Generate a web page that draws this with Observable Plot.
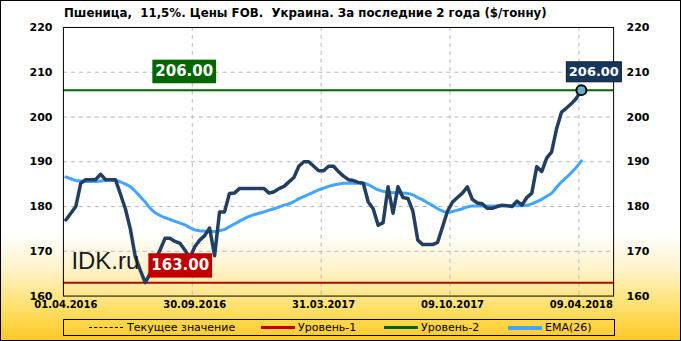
<!DOCTYPE html>
<html>
<head>
<meta charset="utf-8">
<script src="https://cdn.jsdelivr.net/npm/d3@7"></script>
<script src="https://cdn.jsdelivr.net/npm/@observablehq/plot@0.6"></script>
<style>
  body { margin: 0; }
  #wrap {
    position: relative; width: 681px; height: 341px; box-sizing: border-box;
    border: 1px solid #000; overflow: hidden;
    background: linear-gradient(to bottom, #ffffff 0%, #ffffff 68%, #fff3cc 79%, #ffdf66 91%, #ffc926 100%);
    font-family: "DejaVu Sans", sans-serif;
  }
  #title { position: absolute; left: 63px; top: 5px; font-weight: bold; font-size: 11.8px; white-space: pre; color: #000; }
  #chart { position: absolute; left: -1px; top: -1px; }
  #legend {
    position: absolute; left: 62px; top: 318px; width: 552px; height: 17px; box-sizing: border-box;
    border: 1px solid #000; font-size: 11px; color: #000;
  }
  #legend .sw { position: absolute; top: 6px; height: 3px; width: 34px; }
  #legend .lb { position: absolute; top: 0px; line-height: 15px; white-space: pre; }
</style>
</head>
<body>
<div id="wrap">
  <div id="title"></div>
  <div id="chart"></div>
  <div id="legend"></div>
</div>
<script>
const titleText = "Пшеница,  11,5%. Цены FOB.  Украина. За последние 2 года ($/тонну)";

const price = [177,178.5,180,185.2,186,186,186,187.2,186,186,
  186,182.8,179.5,175,168.8,165.8,163,165,168,170.3,
  172.9,172.9,172.2,171.8,170.3,168.5,171,172.5,173.5,175.2,
  169,178.8,178.8,182.9,183,184,184,184,184,184,
  184,183,183.3,184,184.5,185.5,186.5,189,190,190,
  189,188,188,189,189,187.8,186.8,186,185.8,185.4,
  185.2,181,179.5,175.8,176.4,184.4,178.5,184.4,182,181.8,
  179,172.5,171.5,171.5,171.5,172,175.5,179,181,182,
  183,184.4,181.6,180.8,180.6,179.6,179.6,180,180.3,180.2,
  180,181.2,180.3,182,183,188.9,187.8,190.8,192.2,197.4,
  201.1,202,203,204.2,206];

const ema = [186.6,186.2,185.8,185.7,185.6,185.6,185.6,185.7,185.8,185.9,
  185.8,185.5,185,184.4,183.4,182.2,181,179.6,178.6,178,
  177.5,177.1,176.7,176.3,175.9,175.3,174.8,174.6,174.5,174.4,
  174.4,174.6,174.9,175.5,176.1,176.7,177.3,177.8,178.2,178.5,
  178.8,179.2,179.5,179.9,180.3,180.6,181.1,181.7,182.2,182.7,
  183.2,183.7,184.1,184.5,184.8,185,185.2,185.2,185.2,185.2,
  185.2,184.9,184.3,183.7,183.4,183.2,183.1,183,183,182.9,
  182.6,182,181.5,180.8,180.2,179.5,179,178.7,178.9,179.2,
  179.5,179.9,180.1,180.1,180.1,180.1,180.1,180.1,180.1,180.1,
  180.1,180.2,180.2,180.3,180.6,181.1,181.6,182.3,183,184.3,
  185.5,186.5,187.6,188.8,190.2];

const tickIdx = [0, 26, 52, 78, 104];
const tickLabels = ["01.04.2016", "30.09.2016", "31.03.2017", "09.10.2017", "09.04.2018"];
const yTicks = [160, 170, 180, 190, 200, 210, 220];
const levelNames = ["Уровень-1", "Уровень-2"];
const levelValues = [163, 206];
const legendNames = ["Текущее значение", "Уровень-1", "Уровень-2", "EMA(26)"];

const priceData = price.map((v, i) => ({i, v}));
const emaData = ema.map((v, i) => ({i, v}));
const last = priceData[priceData.length - 1];
const xTicks = tickIdx.map((i, k) => ({i, label: tickLabels[k]}));
const gridX = tickIdx.slice(1).map(i => i - 0.5);
const gridY = yTicks.slice(1, -1);
const levels = levelValues.map((v, k) => ({name: levelNames[k], v}));

const cDark = "#223f61", cEma = "#42a5ff", cRed = "#c00000", cGreen = "#006600", cNavy = "#17365d";

document.getElementById("title").textContent = titleText;

const bold = {fontFamily: "DejaVu Sans", fontWeight: "bold"};
// near-white tag colours identify the boxed value labels
const tagGreen = "#fffffe", tagRed = "#fffffd", tagNavy = "#fffffc";

const plot = Plot.plot({
  width: 681, height: 318,
  marginLeft: 63, marginRight: 67, marginTop: 27, marginBottom: 22,
  x: {domain: [-0.5, 110.5], axis: null},
  y: {domain: [160, 220], axis: null},
  style: {background: "transparent", overflow: "visible", fontFamily: "DejaVu Sans"},
  marks: [
    Plot.ruleY(gridY, {stroke: "#b8b8b8", strokeDasharray: "4,4"}),
    Plot.ruleX(gridX, {stroke: "#b8b8b8", strokeDasharray: "4,4"}),
    Plot.ruleY([levels[0]], {y: "v", stroke: cRed, strokeWidth: 2}),
    Plot.ruleY([levels[1]], {y: "v", stroke: cGreen, strokeWidth: 2}),
    Plot.line(emaData, {x: "i", y: "v", stroke: cEma, strokeWidth: 3, curve: "monotone-x"}),
    Plot.line(priceData, {x: "i", y: "v", stroke: cDark, strokeWidth: 3.5, strokeLinejoin: "round"}),
    Plot.dot([last], {x: "i", y: "v", r: 5, fill: "#5eb3c6", stroke: "#000", strokeWidth: 2}),
    Plot.frame({stroke: "#000", strokeWidth: 1}),
    Plot.text(yTicks, {y: d => d, text: d => String(d), frameAnchor: "left", dx: -11, textAnchor: "end", fontSize: 11, ...bold, fill: "#000"}),
    Plot.text(yTicks, {y: d => d, text: d => String(d), frameAnchor: "right", dx: 13, textAnchor: "start", fontSize: 11, ...bold, fill: "#000"}),
    Plot.text(xTicks, {x: "i", text: "label", frameAnchor: "bottom", dy: 12, fontSize: 10, ...bold, fill: "#000"}),
    Plot.text(["IDK.ru"], {text: d => d, frameAnchor: "bottom-left", dx: 8, dy: -27, textAnchor: "start", fontSize: 24, fontFamily: "Liberation Sans", fill: "#1a1a1a"}),
    Plot.text([levels[1]], {y: "v", text: d => d.v.toFixed(2), frameAnchor: "left", textAnchor: "middle", dx: 121, dy: -18.5, fontSize: 15, ...bold, fill: tagGreen}),
    Plot.text([levels[0]], {y: "v", text: d => d.v.toFixed(2), frameAnchor: "left", textAnchor: "middle", dx: 117, dy: -17, fontSize: 15, ...bold, fill: tagRed}),
    Plot.text([last], {x: "i", y: "v", text: d => d.v.toFixed(2), dx: 12.5, dy: -18, fontSize: 13, ...bold, fill: tagNavy})
  ]
});
document.getElementById("chart").append(plot);

function addBox(tag, fill, padX, padY, stroke) {
  plot.querySelectorAll("text").forEach(t => {
    const f = (t.getAttribute("fill") || t.parentNode.getAttribute("fill") || "").toLowerCase();
    if (f !== tag) return;
    const b = t.getBBox();
    const r = document.createElementNS("http://www.w3.org/2000/svg", "rect");
    r.setAttribute("x", b.x - padX);
    r.setAttribute("y", b.y - padY);
    r.setAttribute("width", b.width + 2 * padX);
    r.setAttribute("height", b.height + 2 * padY);
    r.setAttribute("fill", fill);
    if (stroke) { r.setAttribute("stroke", stroke); r.setAttribute("stroke-width", 1); }
    if (t.getAttribute("transform")) r.setAttribute("transform", t.getAttribute("transform"));
    t.parentNode.insertBefore(r, t);
  });
}
addBox(tagGreen, cGreen, 3, 2.8);
addBox(tagRed, cRed, 3, 3.2);
addBox(tagNavy, cNavy, 2.5, 2.5, "#0b1a2e");

// legend
const lg = document.getElementById("legend");
const swatches = [
  {left: 25, style: "height:0;top:7px;border-top:1px dashed #000;"},
  {left: 197, style: `background:${cRed};`},
  {left: 320, style: `background:${cGreen};`},
  {left: 444, style: `background:${cEma};height:4px;`}
];
const labelLefts = [63, 234, 357, 481];
legendNames.forEach((name, k) => {
  const s = document.createElement("div");
  s.className = "sw";
  s.style.cssText = `left:${swatches[k].left}px;` + swatches[k].style;
  lg.append(s);
  const l = document.createElement("div");
  l.className = "lb";
  l.style.left = labelLefts[k] + "px";
  l.textContent = name;
  lg.append(l);
});
</script>
</body>
</html>
